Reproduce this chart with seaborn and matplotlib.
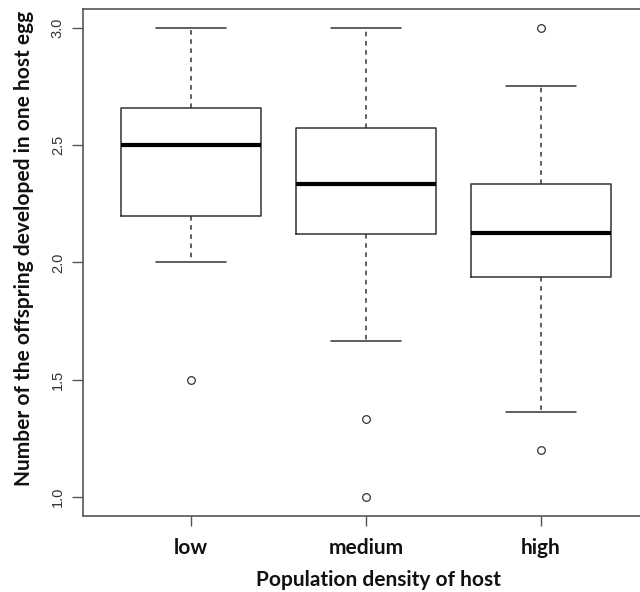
import numpy as np
import pandas as pd
import matplotlib
matplotlib.use("Agg")
import matplotlib.pyplot as plt
import seaborn as sns

# Data (per-egg offspring counts by host density)
categories = ["low", "medium", "high"]
low_vals = [1.5, 2.0, 2.1, 2.2, 2.3, 2.4, 2.5, 2.55, 2.6, 2.66, 2.75, 2.8, 3.0]
medium_vals = [1.0, 1.333, 1.667, 2.12, 2.2, 2.25, 2.333, 2.4, 2.5, 2.571, 2.667, 2.8, 3.0]
high_vals = [1.2, 1.364, 1.6, 1.94, 2.0, 2.1, 2.125, 2.2, 2.25, 2.333, 2.5, 2.75, 3.0]
y_ticks = [1.0, 1.5, 2.0, 2.5, 3.0]
x_label = "Population density of host"
y_label = "Number of the offspring developed in one host egg"

df = pd.DataFrame({
    "density": ["low"] * len(low_vals) + ["medium"] * len(medium_vals) + ["high"] * len(high_vals),
    "offspring": low_vals + medium_vals + high_vals,
})

sns.set_theme(style="white")
plt.rcParams["font.family"] = ["Liberation Sans", "DejaVu Sans"]

fig = plt.figure(figsize=(6.4, 5.92), dpi=100)
ax = fig.add_axes([83 / 640, 1 - 516 / 592, 566 / 640, 507 / 592])

line_col = "#333333"
sns.boxplot(
    data=df, x="density", y="offspring", order=categories, ax=ax,
    width=0.8, fill=False, color=line_col, linewidth=1.1, whis=1.5,
    medianprops=dict(color="black", linewidth=3.0),
    whiskerprops=dict(color=line_col, linewidth=1.1, linestyle=(0, (3, 3))),
    capprops=dict(color=line_col, linewidth=1.1),
    boxprops=dict(color=line_col, linewidth=1.1),
    flierprops=dict(marker="o", markersize=5.5, markerfacecolor="none",
                    markeredgecolor=line_col, markeredgewidth=0.9),
)

# make caps half the box width like R
for ln in ax.lines:
    xd = np.asarray(ln.get_xdata(), dtype=float)
    yd = np.asarray(ln.get_ydata(), dtype=float)
    if len(xd) == 2 and yd[0] == yd[1] and abs(xd[1] - xd[0]) > 0.01 and ln.get_linewidth() < 2:
        c = xd.mean()
        ln.set_xdata([c - 0.2, c + 0.2])

ax.set_xlim(-0.62, 2.62)
ax.set_ylim(0.92, 3.08)
ax.set_yticks(y_ticks)
ax.set_yticklabels([f"{v:.1f}" for v in y_ticks], rotation=90, va="center",
                   fontsize=10.5, color="#333333")
ax.set_xticks(range(len(categories)))
ax.set_xticklabels(categories, fontsize=15, fontweight="bold",
                   family=["Lato", "DejaVu Sans"], color="#111111")
ax.tick_params(axis="y", length=8, width=1.0, color="#555555", pad=5, left=True)
ax.tick_params(axis="x", length=7, width=1.0, color="#555555", pad=9, bottom=True)
ax.set_xlabel("")
ax.set_ylabel("")
for s in ax.spines.values():
    s.set_color("#555555")
    s.set_linewidth(1.2)

fig.text(378 / 640, 1 - 580 / 592, x_label, ha="center", va="center",
         fontsize=15, fontweight="bold", family=["Lato", "DejaVu Sans"], color="#111111")
fig.text(24 / 640, 1 - 248 / 592, y_label, ha="center", va="center", rotation=90,
         fontsize=15, fontweight="bold", family=["Lato", "DejaVu Sans"], color="#111111")

fig.savefig("out.png", dpi=100, facecolor="white")
